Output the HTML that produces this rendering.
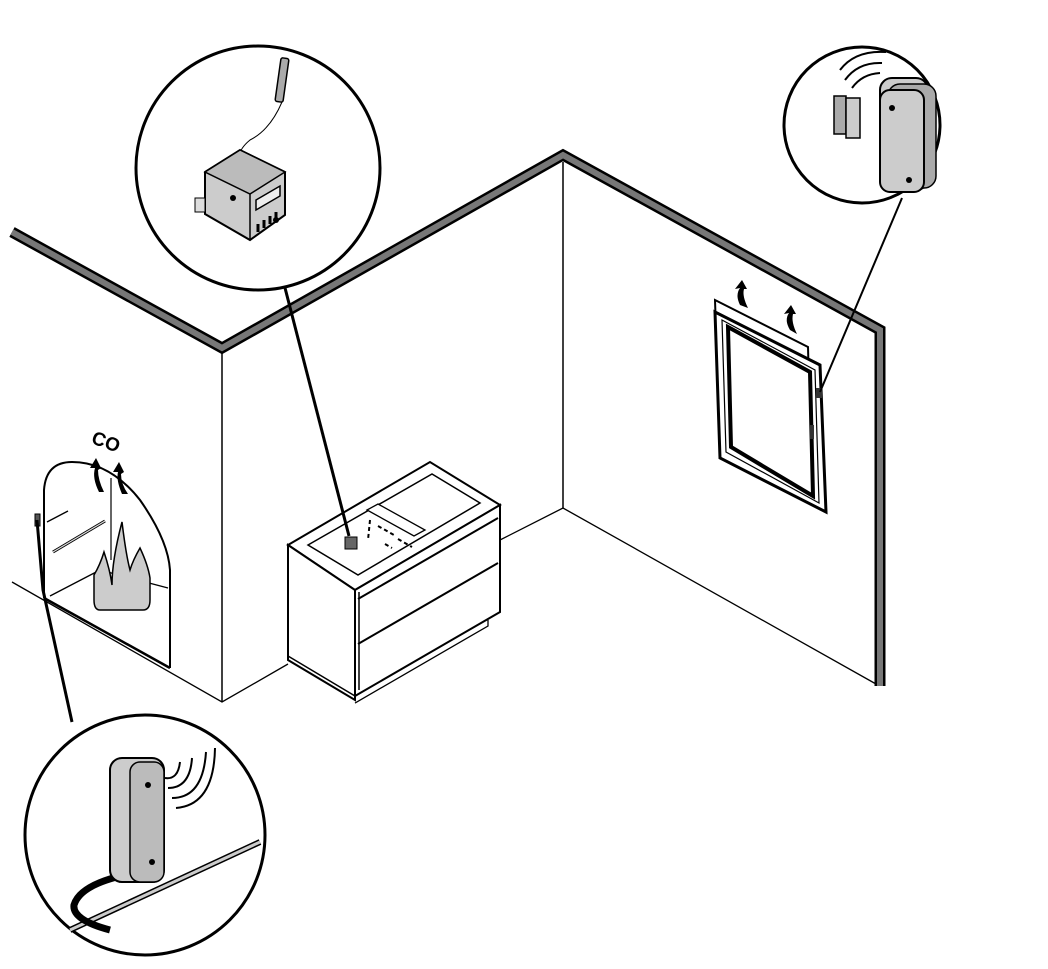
<!DOCTYPE html>
<html><head><meta charset="utf-8"><style>
html,body{margin:0;padding:0;background:#fff;}
svg{display:block;}
</style></head><body>
<svg width="1048" height="969" viewBox="0 0 1048 969" xmlns="http://www.w3.org/2000/svg" font-family="Liberation Sans, sans-serif">
<!-- walls top thick edge -->
<polyline points="12,232 222,348 563,155 880,330 880,686" fill="none" stroke="#000" stroke-width="11" stroke-linejoin="miter"/>
<polyline points="12,232 222,348 563,155 880,330 880,686" fill="none" stroke="#777" stroke-width="6" stroke-linejoin="miter"/>
<!-- corners -->
<line x1="222" y1="352" x2="222" y2="702" stroke="#000" stroke-width="1.5"/>
<line x1="563" y1="162" x2="563" y2="508" stroke="#000" stroke-width="1.5"/>
<!-- floor lines -->
<polyline points="12,582 222,702 288,664" fill="none" stroke="#000" stroke-width="1.3"/>
<polyline points="500,540 563,508 876,684" fill="none" stroke="#000" stroke-width="1.3"/>
<!-- fireplace -->
<path d="M44,598 L44,490 Q46,462 72,462 Q110,462 140,500 Q168,540 170,570 L170,668" fill="none" stroke="#000" stroke-width="2"/>
<line x1="44" y1="598" x2="170" y2="668" stroke="#000" stroke-width="2.5"/>
<line x1="50" y1="596" x2="100" y2="570" stroke="#000" stroke-width="1.3"/>
<line x1="100" y1="570" x2="168" y2="588" stroke="#000" stroke-width="1.3"/>
<line x1="47" y1="522" x2="68" y2="511" stroke="#000" stroke-width="1.3"/>
<line x1="53" y1="552" x2="105" y2="521" stroke="#000" stroke-width="3"/>
<line x1="53" y1="552" x2="105" y2="521" stroke="#ddd" stroke-width="1.2"/>
<line x1="111" y1="478" x2="111" y2="560" stroke="#000" stroke-width="1.2"/>
<path d="M100,610 Q94,610 94,600 L94,575 Q100,565 104,552 Q110,570 112,585 Q112,560 122,522 Q126,555 130,570 Q133,560 140,548 Q148,565 150,578 L150,600 Q150,610 143,610 Z" fill="#ccc" stroke="#000" stroke-width="1.5"/>
<path d="M99,492 Q92,478 95,468 L90,468 L96,458 L101,468 L98,470 Q98,480 104,492 Z" fill="#000"/>
<path d="M122,494 Q116,480 118,472 L113,472 L119,462 L124,472 L121,474 Q121,484 128,494 Z" fill="#000"/>
<text x="92" y="446" font-size="19" font-weight="bold" transform="rotate(20 100 440)">CO</text>
<!-- sensor on fireplace -->
<rect x="35" y="514" width="5" height="12" fill="#555" stroke="#000" stroke-width="1"/>
<!-- cabinet -->
<polygon points="288,545 430,462 500,505 355,590" fill="#fff" stroke="#000" stroke-width="2"/>
<polygon points="308,545 432,474 480,503 358,575" fill="#fff" stroke="#000" stroke-width="1.5"/>
<polygon points="288,545 355,590 355,700 288,660" fill="#fff" stroke="#000" stroke-width="2"/>
<polygon points="355,590 500,505 500,612 355,696" fill="#fff" stroke="#000" stroke-width="2"/>
<line x1="288" y1="656" x2="355" y2="696" stroke="#000" stroke-width="1.5"/>
<line x1="358" y1="599" x2="498" y2="518" stroke="#000" stroke-width="2"/>
<line x1="358" y1="644" x2="498" y2="563" stroke="#000" stroke-width="2"/>
<line x1="359" y1="592" x2="359" y2="690" stroke="#000" stroke-width="1.5"/>
<polyline points="488,620 488,626 355,703" fill="none" stroke="#000" stroke-width="1.3"/>
<polygon points="367,510 378,504 425,530 414,536" fill="#fff" stroke="#000" stroke-width="1.3"/>
<path d="M370,520 L368,540 M378,526 L394,535 M398,539 L412,547 M385,544 L392,548" stroke="#000" stroke-width="2" stroke-dasharray="4 3"/>
<rect x="345" y="537" width="12" height="12" fill="#666" stroke="#000" stroke-width="1"/>
<!-- window -->
<polygon points="715,300 808,347 812,500 720,450" fill="#fff" stroke="#000" stroke-width="2"/>
<polygon points="715,312 820,365 826,512 720,458" fill="#fff" stroke="#000" stroke-width="3"/>
<polygon points="722,320 815,370 819,503 726,452" fill="none" stroke="#000" stroke-width="1.2"/>
<polygon points="728,327 810,372 813,496 731,447" fill="#fff" stroke="#000" stroke-width="4"/>
<rect x="816" y="388" width="6" height="10" fill="#333"/>
<rect x="810" y="425" width="4" height="14" fill="#333"/>
<path d="M740,305 Q735,295 740,288 L735,289 L742,280 L747,289 L744,289 Q742,296 748,308 Z" fill="#000"/>
<path d="M790,330 Q784,320 789,313 L784,314 L791,305 L796,314 L793,314 Q791,322 797,334 Z" fill="#000"/>
<!-- connectors -->
<line x1="284" y1="284" x2="349" y2="536" stroke="#000" stroke-width="3"/>
<line x1="902" y1="198" x2="820" y2="392" stroke="#000" stroke-width="2"/>
<polyline points="72,722 43,590 37,520" fill="none" stroke="#000" stroke-width="3"/>
<!-- circles -->
<circle cx="258" cy="168" r="122" fill="#fff" stroke="#000" stroke-width="3"/>
<circle cx="862" cy="125" r="78" fill="#fff" stroke="#000" stroke-width="3"/>
<circle cx="145" cy="835" r="120" fill="#fff" stroke="#000" stroke-width="3"/>
<!-- top circle device -->
<rect x="278" y="58" width="8" height="44" rx="2" fill="#aaa" stroke="#000" stroke-width="1.5" transform="rotate(8 282 80)"/>
<path d="M282,102 Q270,130 250,140 Q238,150 240,158" fill="none" stroke="#000" stroke-width="1"/>
<polygon points="205,172 240,150 285,172 285,215 250,240 205,214" fill="#ccc" stroke="#000" stroke-width="2"/>
<polygon points="205,172 240,150 285,172 250,194" fill="#bbb" stroke="#000" stroke-width="1.5"/>
<line x1="250" y1="194" x2="250" y2="240" stroke="#000" stroke-width="1.5"/>
<polygon points="256,200 280,186 280,196 256,210" fill="#eee" stroke="#000" stroke-width="1.5"/>
<circle cx="233" cy="198" r="3" fill="#000"/><circle cx="276" cy="220" r="3" fill="#000"/>
<path d="M258,232 l0,-8 M264,228 l0,-8 M270,224 l0,-8 M276,220 l0,-8" stroke="#000" stroke-width="3"/>
<rect x="195" y="198" width="10" height="14" fill="#ddd" stroke="#000"/>
<!-- top right circle device -->
<path d="M845,80 Q858,62 882,63" fill="none" stroke="#000" stroke-width="2"/>
<path d="M852,88 Q862,74 880,73" fill="none" stroke="#000" stroke-width="2"/>
<path d="M840,70 Q855,50 886,52" fill="none" stroke="#000" stroke-width="2"/>
<rect x="880" y="78" width="48" height="112" rx="12" fill="#ccc" stroke="#000" stroke-width="2"/>
<rect x="888" y="84" width="48" height="104" rx="12" fill="#aaa" stroke="#000" stroke-width="1.5"/>
<rect x="880" y="90" width="44" height="102" rx="10" fill="#ccc" stroke="#000" stroke-width="2"/>
<circle cx="892" cy="108" r="3" fill="#000"/><circle cx="909" cy="180" r="3" fill="#000"/>
<rect x="834" y="96" width="12" height="38" fill="#aaa" stroke="#000" stroke-width="1.5"/>
<rect x="846" y="98" width="14" height="40" fill="#ccc" stroke="#000" stroke-width="1.5"/>
<!-- bottom circle device -->
<path d="M165,778 Q178,780 180,762" fill="none" stroke="#000" stroke-width="2"/>
<path d="M168,788 Q190,788 192,758" fill="none" stroke="#000" stroke-width="2"/>
<path d="M172,798 Q203,798 206,752" fill="none" stroke="#000" stroke-width="2"/>
<path d="M176,808 Q214,805 215,748" fill="none" stroke="#000" stroke-width="2"/>
<line x1="70" y1="930" x2="260" y2="842" stroke="#000" stroke-width="6"/>
<line x1="70" y1="930" x2="260" y2="842" stroke="#ccc" stroke-width="3"/>
<path d="M125,875 Q80,885 74,905 Q72,920 110,930" fill="none" stroke="#000" stroke-width="7"/>
<rect x="110" y="758" width="54" height="124" rx="12" fill="#ccc" stroke="#000" stroke-width="2"/>
<rect x="130" y="762" width="34" height="120" rx="10" fill="#bbb" stroke="#000" stroke-width="1.5"/>
<circle cx="148" cy="785" r="3" fill="#000"/><circle cx="152" cy="862" r="3" fill="#000"/>
</svg>
</body></html>
